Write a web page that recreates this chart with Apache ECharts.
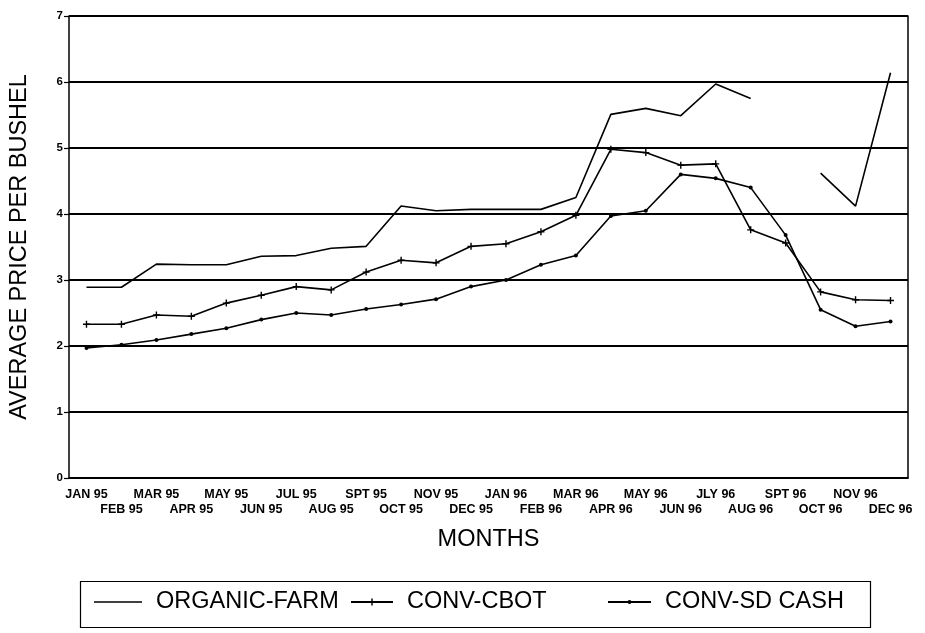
<!DOCTYPE html>
<html><head><meta charset="utf-8">
<script src="https://cdn.jsdelivr.net/npm/echarts@6/dist/echarts.min.js"></script>
<style>html,body{margin:0;padding:0;background:#fff}#c{width:925px;height:633px}</style>
</head><body><div id="c"></div>
<script>
const months = ['JAN 95','FEB 95','MAR 95','APR 95','MAY 95','JUN 95','JUL 95','AUG 95','SPT 95','OCT 95','NOV 95','DEC 95',
                'JAN 96','FEB 96','MAR 96','APR 96','MAY 96','JUN 96','JLY 96','AUG 96','SPT 96','OCT 96','NOV 96','DEC 96'];
const organicFarm = [2.89,2.89,3.24,3.23,3.23,3.36,3.37,3.48,3.51,4.12,4.05,4.07,
                     4.07,4.07,4.25,5.51,5.60,5.49,5.97,5.75,null,4.62,4.12,6.14];
const convCbot    = [2.33,2.33,2.47,2.45,2.65,2.77,2.90,2.85,3.12,3.30,3.26,3.51,
                     3.55,3.73,3.98,4.98,4.93,4.74,4.76,3.76,3.56,2.82,2.70,2.69];
const convSdCash  = [1.97,2.02,2.09,2.18,2.27,2.40,2.50,2.47,2.56,2.63,2.71,2.90,
                     3.00,3.23,3.37,3.97,4.05,4.60,4.54,4.40,3.68,2.55,2.30,2.37];
const seriesNames = ['ORGANIC-FARM','CONV-CBOT','CONV-SD CASH'];
const yMin = 0, yMax = 7, yStep = 1;

const FONT = 'Liberation Sans, Arial, Helvetica, sans-serif';
const plusSymbol = 'path://M4,0H6V10H4ZM0,4H10V6H0Z';
const chart = echarts.init(document.getElementById('c'), null, {renderer:'canvas'});
const legendText = {fontFamily: FONT, fontSize: 23.5, color: '#000', padding: [0,0,0,9]};
chart.setOption({
  backgroundColor: '#fff',
  animation: false,
  grid: {left: 69, right: 17, top: 16, bottom: 155, containLabel: false, outerBoundsMode: 'none'},
  xAxis: {
    type: 'category', data: months, boundaryGap: true,
    name: 'MONTHS', nameLocation: 'middle', nameGap: 50,
    nameTextStyle: {fontFamily: FONT, fontSize: 23.5, color: '#000'},
    axisLine: {lineStyle: {color: '#000', width: 1.5}},
    axisTick: {alignWithLabel: true, length: 6, lineStyle: {color: '#000', width: 1.2}},
    axisLabel: {interval: 0, fontFamily: FONT, fontSize: 12.5, fontWeight: 'bold', color: '#000',
      lineHeight: 15, margin: 9, hideOverlap: false,
      formatter: (v, i) => (i % 2 === 0 ? v : '\n' + v)},
    splitLine: {show: false}
  },
  yAxis: [{
    type: 'value', min: yMin, max: yMax, interval: yStep,
    name: 'AVERAGE PRICE PER BUSHEL', nameLocation: 'middle', nameGap: 37,
    nameTextStyle: {fontFamily: FONT, fontSize: 23.5, color: '#000'},
    axisLine: {show: true, lineStyle: {color: '#000', width: 1.5}},
    axisTick: {show: true, length: 5, lineStyle: {color: '#000', width: 1.2}},
    axisLabel: {fontFamily: FONT, fontSize: 11.5, fontWeight: 'bold', color: '#000', margin: 6},
    splitLine: {show: true, lineStyle: {color: '#000', width: 1.8}}
  }, {
    type: 'value', min: yMin, max: yMax, interval: yStep, position: 'right',
    axisLine: {show: true, lineStyle: {color: '#000', width: 1.5}},
    axisTick: {show: false}, axisLabel: {show: false}, splitLine: {show: false}
  }],
  legend: [
    {data: [{name: seriesNames[0], icon: 'path://M0,0H48V1.4H0Z'}], left: 89, top: 585,
     itemWidth: 48, itemHeight: 14, symbolKeepAspect: true, textStyle: legendText},
    {data: [seriesNames[1]], left: 345, top: 585, itemWidth: 42, itemHeight: 9, textStyle: legendText},
    {data: [seriesNames[2]], left: 602, top: 585, itemWidth: 43, itemHeight: 5, textStyle: legendText}
  ],
  graphic: [{type: 'rect', left: 78, top: 579, shape: {width: 790, height: 46},
             style: {fill: 'none', stroke: '#000', lineWidth: 1.2}}],
  series: [
    {name: seriesNames[0], type: 'line', data: organicFarm, symbol: 'none',
     lineStyle: {color: '#000', width: 1.6}, itemStyle: {color: '#000'}},
    {name: seriesNames[1], type: 'line', data: convCbot, symbol: plusSymbol, symbolSize: 7,
     lineStyle: {color: '#000', width: 1.6}, itemStyle: {color: '#000'}},
    {name: seriesNames[2], type: 'line', data: convSdCash, symbol: 'circle', symbolSize: 4,
     lineStyle: {color: '#000', width: 1.6}, itemStyle: {color: '#000'}}
  ]
});
</script></body></html>
